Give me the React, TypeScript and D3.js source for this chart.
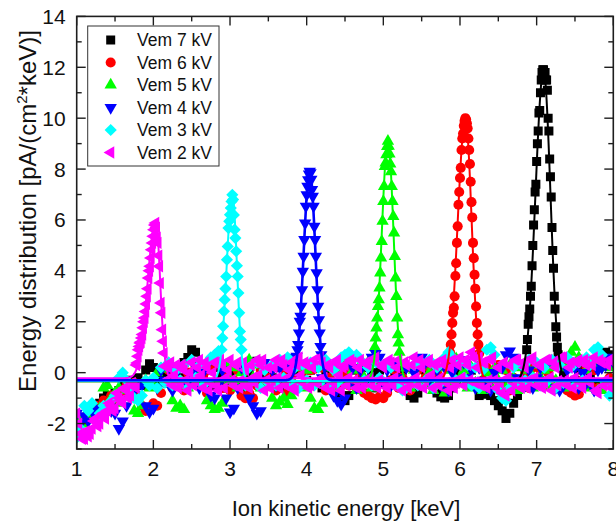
import React from 'react';
import * as d3 from 'd3';

const WIDTH = 616;
const HEIGHT = 523;
const plot = { left: 76.7, right: 613.3, top: 16.4, bottom: 449 };

const seriesNames = ['Vem 7 kV', 'Vem 6 kV', 'Vem 5 kV', 'Vem 4 kV', 'Vem 3 kV', 'Vem 2 kV'];
const seriesColors = ['#000000', '#ff0000', '#00ff00', '#0000ff', '#00ffff', '#ff00ff'];
const seriesShapes = ['square', 'circle', 'triUp', 'triDown', 'diamond', 'triLeft'];

const xTicks = [1, 2, 3, 4, 5, 6, 7, 8];
const yTicks = [-2, 0, 2, 4, 6, 8, 10, 12, 14];

// Baseline scan, x = 1.00 + 0.05 * i (null where the peak scan takes over)
const scanStart = 1.0;
const scanStep = 0.05;

const base7kV = [
  -1.8, -2.0, -1.9, -1.6, -1.4, -1.5, -1.2, -1.0, -0.9, -1.1,
  -0.8, -0.7, -0.5, -0.6, -0.3, -0.4, -0.2, -0.5, 0.1, 0.35,
  0.2, -0.3, -0.1, 0.0, -0.4, 0.1, 0.2, -0.2, 0.4, 0.6,
  0.9, 0.8, 0.3, -0.2, 0.1, -0.5, 0.2, -0.3, 0.0, -0.6,
  -0.2, 0.1, -0.4, 0.2, -0.6, 0.0, 0.4, 0.45, -0.2, 0.1,
  -0.5, -0.2, 0.2, -0.6, 0.1, -0.3, 0.3, -0.5, 0.0, 0.2,
  -0.3, 0.1, -0.4, 0.2, -0.6, 0.0, -0.3, 0.2, -0.8, -1.0,
  -1.1, -0.9, -0.4, 0.1, -0.5, 0.2, -0.3, 0.0, -0.6, 0.1,
  -0.4, 0.2, -0.3, 0.0, -0.5, 0.1, -0.6, -0.9, -1.0, -0.8,
  -0.4, 0.1, -0.3, 0.2, -0.8, -0.95, -1.0, -0.9, -0.6, -0.3,
  0.0, 0.2, -0.3, 0.1, -0.5, -0.9, -0.85, -0.4, -0.9, -1.1,
  -1.3, -1.5, -1.8, -1.6, -1.2, -0.9, -0.5, 0.3, null, null,
  null, null, null, null, null, null, 0.3, 0.0, -0.4, 0.2,
  -0.3, 0.1, -0.5, 0.2, -0.2, 0.3, -0.4, 0.6, 0.8, 0.7,
  0.5,
];

const base6kV = [
  -1.9, -2.2, -1.8, -1.6, -1.7, -1.3, -1.4, -1.1, -1.2, -0.9,
  -1.0, -0.7, -0.9, -0.5, -0.8, -0.4, -0.9, -1.3, -1.5, -1.4,
  -1.2, -1.3, -0.8, -0.4, 0.1, -0.6, 0.2, -0.3, -0.7, 0.0,
  -0.4, 0.2, -0.5, -0.1, -0.8, 0.1, -0.4, 0.3, -0.6, -0.2,
  -0.7, -0.3, 0.1, -0.9, -1.0, -0.8, -1.0, -0.5, 0.1, -0.6,
  -0.2, 0.2, -0.7, -0.3, 0.1, -0.8, -0.2, 0.3, -0.5, 0.0,
  0.2, 0.1, 0.15, -0.4, 0.2, -0.7, -0.2, 0.1, -0.6, -0.3,
  0.0, -0.5, 0.2, -0.6, -0.1, -0.8, -0.9, -1.0, -1.05, -0.95,
  -1.0, -0.8, -0.3, 0.1, -0.6, -0.2, 0.2, -0.7, -0.3, 0.1,
  -0.5, -0.2, 0.2, -0.6, 0.0, -0.4, -0.5, 0.2, null, null,
  null, null, null, null, null, null, -0.3, 0.2, -0.6, -0.2,
  0.3, -0.5, 0.1, -0.7, -0.2, 0.3, -0.4, 0.0, -0.6, 0.2,
  -0.3, 0.1, -0.5, 0.0, -0.3, 0.3, 0.5, 0.45, -0.7, -0.8,
  -0.9, -0.85, -0.3, 0.2, -0.5, 0.1, -0.6, 0.6, 0.5, -0.2,
  0.3,
];

const base5kV = [
  -1.7, -1.9, -2.0, -1.8, -1.5, -1.6, -1.4, -0.6, -0.5, -1.0,
  -0.8, -0.6, -1.2, -0.7, -0.9, -1.5, -1.6, -1.3, -0.3, -0.6,
  -0.5, 0.0, 0.15, 0.2, 0.35, -1.1, -1.4, -1.3, -1.45, -0.6,
  -0.2, 0.1, -0.5, 0.2, -1.1, -1.3, -1.45, -1.4, -1.2, 0.3,
  -0.3, 0.2, -0.6, 0.0, -0.4, 0.5, -0.2, 0.3, -0.6, 0.2,
  -0.4, -1.0, -1.3, -1.15, -1.0, -1.25, -0.9, -0.5, 0.2, -0.6,
  0.1, -1.0, -1.4, -1.45, -1.2, -0.4, 0.2, -0.6, 0.0, -0.3,
  0.3, -0.5, 0.1, -0.7, 0.3, -0.2, 0.4, -0.6, null, null,
  null, null, null, null, null, -0.3, 0.2, -0.6, 0.1, -0.4,
  0.3, -0.5, 0.0, -0.7, 0.2, -0.3, -0.8, 0.1, -0.5, 0.55,
  -0.2, 0.1, -0.6, 0.2, -0.4, 0.3, -0.7, 0.0, -0.5, 0.2,
  -0.3, 0.1, -0.6, 0.3, -0.2, -0.7, 0.2, -0.4, 0.1, -0.6,
  0.3, -0.2, 0.1, -0.5, 0.2, -0.3, 0.4, -0.6, 0.2, 0.8,
  1.0, 0.6, -0.4, 0.1, -0.6, 0.3, -0.7, -0.7, -0.5, 0.2,
  -0.4,
];

const base4kV = [
  -1.6, -2.0, -1.7, -1.9, -1.5, -1.7, -1.4, -1.6, -1.3, -1.5,
  -1.6, -2.2, -1.9, -1.3, -0.9, -0.7, -1.0, -0.5, -1.3, -1.55,
  -1.4, -0.6, 0.1, -0.3, 0.2, -0.7, 0.0, -0.4, 0.3, -0.5,
  -0.1, 0.2, -0.6, 0.0, 0.3, -0.9, -1.0, -0.5, 0.1, -1.0,
  -1.55, -1.4, -0.6, 0.2, -0.4, -1.0, -1.3, -1.6, -1.5, 0.4,
  -0.3, 0.1, -0.5, 0.2, -0.3, 0.4, 0.5, 0.6, null, null,
  null, null, null, null, -0.2, 0.3, -0.5, -0.9, -1.1, -1.25,
  -1.0, -0.4, 0.2, -0.6, 0.1, -0.3, 0.2, 0.6, 0.75, 0.6,
  -0.4, 0.1, -0.5, 0.3, -0.2, -0.6, 0.2, -0.4, 0.0, 0.5,
  0.6, 0.4, -0.3, -0.6, 0.1, -0.5, 0.2, -0.7, 0.0, 0.3,
  0.5, 0.4, -0.2, 0.1, -0.6, 0.2, -0.3, -0.55, -0.7, 0.0,
  -0.4, 0.2, 0.7, 0.85, 0.6, -0.2, 0.3, -0.5, 0.1, -0.6,
  -0.2, 0.2, -0.3, 0.4, 0.5, -0.6, -0.7, -0.5, 0.1, -0.4,
  0.2, -0.6, 0.0, -0.4, 0.3, -0.7, 0.1, 0.2, 0.3, 0.6,
  0.4,
];

const base3kV = [
  -2.55, -2.2, -1.3, -1.5, -1.2, -1.9, -1.6, -1.3, -1.5, -1.1,
  -0.9, -0.2, 0.0, -0.3, -0.6, -1.0, -1.1, -0.9, -0.3, -0.5,
  -0.2, -0.6, 0.2, -0.4, 0.4, -0.5, 0.1, -0.3, 0.3, -0.6,
  0.5, -0.2, 0.3, -0.5, 0.4, 0.6, 0.7, 0.85, null, null,
  null, null, null, null, -0.5, 0.2, -0.3, 0.4, -0.6, 0.1,
  -0.4, 0.3, -0.5, 0.5, -0.2, 0.6, -0.4, 0.2, -0.6, 0.3,
  -0.3, 0.4, -0.5, 0.2, -0.3, 0.5, -0.6, 0.1, -0.4, 0.6,
  0.7, 0.8, 0.6, 0.7, 0.5, -0.3, 0.2, -0.5, 0.4, -0.2,
  0.3, -0.4, 0.2, -0.3, -0.5, -0.7, -0.6, -0.4, 0.3, -0.5,
  0.4, -0.3, 0.5, -0.6, 0.2, -0.4, 0.6, 0.8, 0.6, -0.3,
  0.4, -0.2, 0.3, -0.5, 0.2, -0.6, 0.1, 0.9, 1.0, 0.7,
  -0.7, -1.0, -1.1, -0.6, 0.2, -0.4, 0.3, -0.3, 0.5, -0.2,
  0.4, -0.5, 0.2, -0.3, 0.5, -0.6, 0.3, -0.4, 0.6, 0.2,
  -0.5, 0.4, -0.3, 0.6, 0.3, 0.9, 1.0, 0.7, -0.4, -0.9,
  -0.6,
];

const base2kV = [
  -1.6, -2.4, -2.6, -2.5, -2.2, -1.8, -2.0, -1.6, -1.5, -1.3,
  -1.4, -1.0, -1.2, -0.7, -0.9, -0.5, null, null, null, null,
  null, null, null, null, 0.2, -0.5, 0.3, -0.4, 0.1, -0.7,
  0.4, -0.3, 0.5, -0.6, 0.2, -0.4, 0.4, -0.7, 0.3, -0.2,
  0.5, -0.5, 0.4, -0.3, 0.1, -0.6, -0.2, 0.5, 0.3, -0.7,
  0.2, -0.3, 0.5, -0.6, 0.3, -0.2, 0.4, -0.7, 0.6, -0.4,
  0.3, -0.5, 0.5, -0.3, 0.4, -0.6, 0.2, -0.4, 0.5, -0.7,
  0.3, -0.2, 0.4, -0.6, 0.5, -0.4, 0.3, -0.5, 0.6, -0.3,
  0.2, -0.6, 0.4, -0.2, 0.5, -0.7, 0.3, -0.4, 0.6, -0.5,
  0.2, -0.3, 0.5, -0.6, 0.4, -0.2, 0.3, -0.7, 0.5, -0.4,
  0.6, -0.5, 0.3, 0.8, -0.4, 0.6, 0.4, -0.6, 0.5, -0.3,
  0.2, -0.8, -0.9, 0.3, -0.4, 0.5, -0.6, 0.2, -0.3, 0.6,
  -0.5, 0.3, -0.4, 0.5, -0.7, 0.2, -0.3, 0.6, -0.5, 0.4,
  -0.2, 0.5, -0.6, 0.3, -0.4, 0.6, -0.8, 0.4, -0.3, 0.5,
  -0.4,
];

// 2 kV scan points lying between the ones above, x = 1.025 + 0.05 * i
const midStart = 1.025;
const mid2kV = [
  -2.0, -2.6, -2.3, -2.4, -1.9, -2.1, -1.7, -1.8, -1.2, -1.5,
  -0.8, -1.1, -0.6, -1.0, -0.4, -0.6, null, null, null, null,
  null, null, null, -0.3, 0.4, -0.1, -0.6, 0.3, -0.3, 0.0,
  -0.5, 0.2, -0.1, 0.4, -0.7, 0.0, -0.5, 0.5, -0.6, 0.1,
  -0.3, 0.3, -0.6, 0.4, -0.5, 0.3, -0.4, -0.1, 0.5, -0.3,
  -0.6, 0.2, -0.2, 0.5, -0.5, 0.1, -0.6, 0.3, -0.1, 0.4,
  -0.6, 0.2, -0.4, 0.6, -0.2, 0.3, -0.7, 0.4, -0.1, 0.2,
  -0.5, 0.5, -0.3, 0.2, -0.6, 0.4, -0.2, 0.5, -0.6, 0.3,
  -0.4, 0.5, -0.5, 0.2, -0.3, 0.4, -0.6, 0.3, -0.2, 0.5,
  -0.6, 0.4, -0.1, 0.3, -0.5, 0.5, -0.4, 0.2, -0.6, 0.3,
  -0.2, 0.5, -0.3, 0.6, 0.2, -0.5, 0.4, -0.3, 0.6, -0.6,
  -0.4, 0.4, -0.2, -0.7, 0.5, -0.3, 0.4, -0.6, 0.5, -0.2,
  0.3, -0.6, 0.5, -0.2, 0.4, -0.5, 0.6, -0.3, 0.2, -0.6,
  0.4, -0.4, 0.5, -0.2, 0.3, -0.7, 0.5, -0.5, 0.3, -0.6,
];

// Peak scans, x = peakStart + 0.01 * i
const peakStep = 0.01;
const peakStart = [6.87, 5.86, 4.89, 3.86, 2.89, 1.78];

const peak7kV = [
  0.9, 1.3, 1.9, 2.2, 2.5, 3.0, 3.4, 4.2, 5.0, 5.8, 6.4, 7.1, 7.4, 8.3, 9.0, 9.5, 10.2, 10.3, 11.0, 11.5, 11.8,
  11.9, 11.9, 11.7, 11.8, 11.5, 11.5, 11.1, 10.0, 9.5, 8.4, 7.7, 6.9, 5.7, 4.8, 4.1, 3.0, 2.5, 1.8, 1.4, 1.0, 0.7,
];
const peak6kV = [
  0.5, 0.8, 1.1, 1.5, 1.95, 2.35, 2.55, 3.0, 3.8, 4.3, 5.1, 5.75, 6.6, 7.1, 7.65, 8.05, 8.75, 9.2, 9.4, 9.7,
  9.9, 10.0, 9.95, 9.8, 9.6, 9.2, 8.75, 8.2, 7.5, 6.7, 6.1, 5.1, 4.5, 3.85, 3.3, 2.6, 1.95, 1.5, 1.1, 0.75,
];
const peak5kV = [
  1.0, 1.36, 1.76, 2.15, 2.6, 2.87, 3.33, 3.92, 4.51, 5.16, 5.95, 6.73, 7.32, 8.1, 8.24, 8.57, 8.89,
  9.1, 8.9, 8.6, 8.2, 7.9, 7.32, 6.73, 6.14, 5.49, 4.57, 3.72, 3.0, 2.15, 1.49, 1.17, 0.8,
];
const peak4kV = [
  0.45, 0.64, 0.9, 1.1, 1.56, 2.02, 2.21, 2.61, 3.26, 3.98, 4.57, 5.23, 5.88, 6.54, 6.99, 7.32, 7.58, 7.8,
  7.91, 7.85, 7.6, 7.2, 6.93, 6.54, 5.75, 5.23, 4.57, 3.92, 3.26, 2.61, 2.08, 1.56, 1.03, 0.7,
];
const peak3kV = [
  0.9, 1.36, 1.82, 2.41, 2.87, 3.3, 3.78, 4.44, 4.96, 5.68, 5.95, 6.21, 6.47, 6.73,
  6.99, 6.8, 6.2, 5.62, 5.29, 4.77, 4.2, 3.78, 3.13, 2.35, 1.62, 1.3, 0.9,
];
const peak2kV = [
  0.3, 0.38, 0.64, 0.9, 1.03, 1.17, 1.2, 1.36, 1.5, 1.76, 2.0, 2.15, 2.4, 2.7, 3.0, 3.3, 3.72, 4.0, 4.18,
  4.51, 4.83, 5.1, 5.36, 5.62, 5.8, 5.88, 5.7, 5.3, 5.1, 4.6, 4.18, 3.52, 2.74, 2.35, 1.69, 1.23, 0.77, 0.25,
];

const baseScans = [base7kV, base6kV, base5kV, base4kV, base3kV, base2kV];
const midScans = [[], [], [], [], [], mid2kV];
const peakScans = [peak7kV, peak6kV, peak5kV, peak4kV, peak3kV, peak2kV];

// Gaussian fit parameters (two half-widths for the asymmetric peaks)
const fitCenter = [7.09, 6.07, 5.06, 4.04, 3.03, 2.03];
const fitHeight = [12.2, 10.3, 9.4, 8.2, 7.3, 6.2];
const fitSigmaLeft = [0.105, 0.1, 0.082, 0.08, 0.075, 0.105];
const fitSigmaRight = [0.09, 0.083, 0.075, 0.075, 0.062, 0.06];
const fitOffset = [-0.34, -0.33, -0.34, -0.3, -0.33, -0.22];
// fits are stroked in this order, the 4 kV curve ends up on top
const fitOrder = [0, 1, 2, 4, 5, 3];

const FONT = "'Liberation Sans', Arial, Helvetica, sans-serif";

const diamondType = {
  draw(ctx: d3.Path, size: number) {
    const r = Math.sqrt(size / 2);
    ctx.moveTo(0, -r);
    ctx.lineTo(r, 0);
    ctx.lineTo(0, r);
    ctx.lineTo(-r, 0);
    ctx.closePath();
  },
};

function markerPath(shape: string): { d: string; rot: number } {
  switch (shape) {
    case 'square':
      return { d: d3.symbol(d3.symbolSquare, 81)() as string, rot: 0 };
    case 'circle':
      return { d: d3.symbol(d3.symbolCircle, 80)() as string, rot: 0 };
    case 'triUp':
      return { d: d3.symbol(d3.symbolTriangle, 66)() as string, rot: 0 };
    case 'triDown':
      return { d: d3.symbol(d3.symbolTriangle, 66)() as string, rot: 180 };
    case 'diamond':
      return { d: d3.symbol(diamondType as any, 74)() as string, rot: 0 };
    default:
      return { d: d3.symbol(d3.symbolTriangle, 66)() as string, rot: -90 };
  }
}

export default function App() {
  const x = d3.scaleLinear().domain([1, 8]).range([plot.left, plot.right]);
  const y = d3.scaleLinear().domain([-3, 14]).range([plot.bottom, plot.top]);

  const xMinor = d3.range(1.5, 8, 1);
  const yMinor = d3.range(-3, 14, 2);

  const points = seriesNames.map((_, s) => {
    const pts: { x: number; y: number }[] = [];
    baseScans[s].forEach((v, i) => {
      if (v !== null) pts.push({ x: scanStart + scanStep * i, y: v as number });
    });
    (midScans[s] as (number | null)[]).forEach((v, i) => {
      if (v !== null) pts.push({ x: midStart + scanStep * i, y: v as number });
    });
    peakScans[s].forEach((v, i) => pts.push({ x: peakStart[s] + peakStep * i, y: v }));
    return pts.sort((a, b) => a.x - b.x);
  });

  const grid = d3.range(1, 8.0005, 0.002);
  const fitLine = d3
    .line<number[]>()
    .x((d) => x(d[0]))
    .y((d) => y(d[1]));
  const fitPaths = seriesNames.map((_, s) =>
    fitLine(
      grid.map((gx) => {
        const sg = gx < fitCenter[s] ? fitSigmaLeft[s] : fitSigmaRight[s];
        const z = (gx - fitCenter[s]) / sg;
        return [gx, fitOffset[s] + fitHeight[s] * Math.exp(-0.5 * z * z)];
      })
    ) as string
  );

  const tickLen = 9;
  const minorLen = 5;
  const axisColor = '#1e1e1e';

  const legend = { x: 87.7, y: 26, w: 131.3, h: 140, rowY: 40, rowGap: 22.5 };

  return (
    <svg
      width={WIDTH}
      height={HEIGHT}
      viewBox={`0 0 ${WIDTH} ${HEIGHT}`}
      style={{ position: 'absolute', left: 0, top: 0, background: '#fff' }}
      fontFamily={FONT}
    >
      <defs>
        <clipPath id="plotArea">
          <rect x={plot.left} y={plot.top} width={plot.right - plot.left} height={plot.bottom - plot.top} />
        </clipPath>
      </defs>

      <g clipPath="url(#plotArea)">
        {points.map((pts, s) => {
          const m = markerPath(seriesShapes[s]);
          return (
            <g key={seriesNames[s]} fill={seriesColors[s]}>
              {pts.map((p, i) => (
                <path key={i} d={m.d} transform={`translate(${x(p.x)},${y(p.y)}) rotate(${m.rot})`} />
              ))}
            </g>
          );
        })}
        {fitOrder.map((s) => (
          <path
            key={'fit' + s}
            d={fitPaths[s]}
            fill="none"
            stroke={seriesColors[s]}
            strokeWidth={s === 3 ? 2.6 : 2}
          />
        ))}
      </g>

      {/* frame */}
      <rect
        x={plot.left}
        y={plot.top}
        width={plot.right - plot.left}
        height={plot.bottom - plot.top}
        fill="none"
        stroke={axisColor}
        strokeWidth={1.6}
      />

      {/* ticks on all four sides, pointing inward */}
      <g stroke={axisColor} strokeWidth={1.4}>
        {xTicks.map((t) => (
          <g key={'xt' + t}>
            <line x1={x(t)} x2={x(t)} y1={plot.bottom} y2={plot.bottom - tickLen} />
            <line x1={x(t)} x2={x(t)} y1={plot.top} y2={plot.top + tickLen} />
          </g>
        ))}
        {xMinor.map((t) => (
          <g key={'xm' + t}>
            <line x1={x(t)} x2={x(t)} y1={plot.bottom} y2={plot.bottom - minorLen} />
            <line x1={x(t)} x2={x(t)} y1={plot.top} y2={plot.top + minorLen} />
          </g>
        ))}
        {yTicks.map((t) => (
          <g key={'yt' + t}>
            <line x1={plot.left} x2={plot.left + tickLen} y1={y(t)} y2={y(t)} />
            <line x1={plot.right} x2={plot.right - tickLen} y1={y(t)} y2={y(t)} />
          </g>
        ))}
        {yMinor.map((t) => (
          <g key={'ym' + t}>
            <line x1={plot.left} x2={plot.left + minorLen} y1={y(t)} y2={y(t)} />
            <line x1={plot.right} x2={plot.right - minorLen} y1={y(t)} y2={y(t)} />
          </g>
        ))}
      </g>

      {/* tick labels */}
      <g fontSize={21} fill="#111">
        {xTicks.map((t) => (
          <text key={'xl' + t} x={x(t)} y={plot.bottom + 27} textAnchor="middle">
            {t}
          </text>
        ))}
        {yTicks.map((t) => (
          <text key={'yl' + t} x={plot.left - 11} y={y(t) + 7.5} textAnchor="end">
            {t}
          </text>
        ))}
      </g>

      {/* axis titles */}
      <text x={(plot.left + plot.right) / 2 + 1} y={516} textAnchor="middle" fontSize={22} fill="#111">
        Ion kinetic energy [keV]
      </text>
      <text
        transform={`translate(36,211) rotate(-90)`}
        textAnchor="middle"
        fontSize={24}
        fill="#111"
      >
        Energy distribution [pA/(cm
        <tspan dy={-9} fontSize={15}>2</tspan>
        <tspan dy={9}>*keV)]</tspan>
      </text>

      {/* legend */}
      <rect x={legend.x} y={legend.y} width={legend.w} height={legend.h} fill="#fff" stroke="#333" strokeWidth={1} />
      {seriesNames.map((name, s) => {
        const m = markerPath(seriesShapes[s]);
        const cy = legend.rowY + legend.rowGap * s;
        return (
          <g key={'lg' + s}>
            <path d={m.d} fill={seriesColors[s]} transform={`translate(110.7,${cy}) rotate(${m.rot})`} />
            <text x={137} y={cy + 6.3} fontSize={17.5} fill="#111">
              {name}
            </text>
          </g>
        );
      })}
    </svg>
  );
}
